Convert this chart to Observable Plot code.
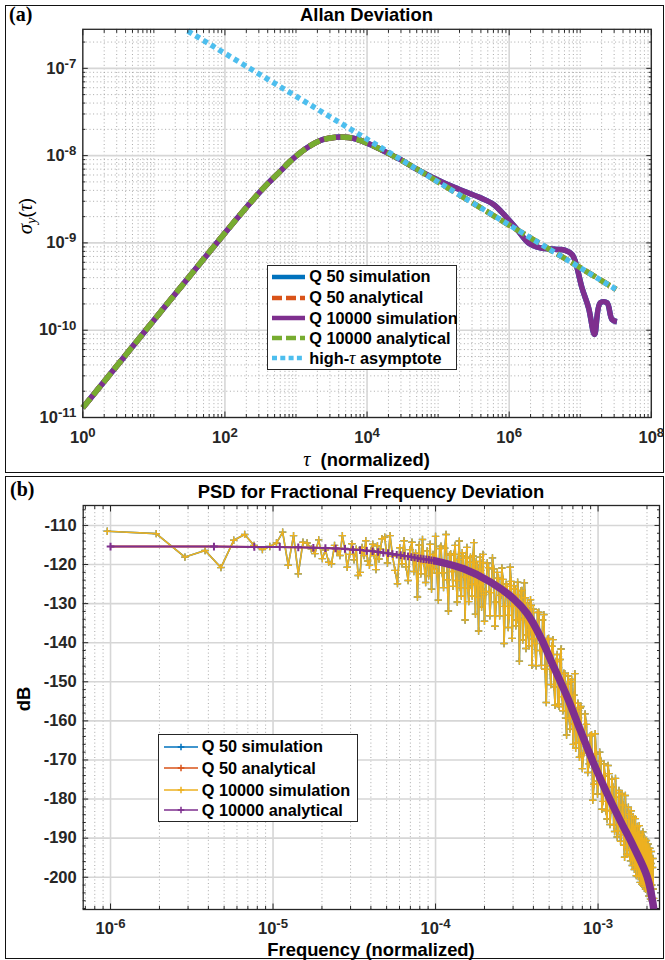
<!DOCTYPE html>
<html><head><meta charset="utf-8">
<script src="https://cdn.jsdelivr.net/npm/d3@7"></script>
<script src="https://cdn.jsdelivr.net/npm/@observablehq/plot@0.6"></script>
<style>
html,body{margin:0;padding:0;background:#fff;}
#page{position:relative;width:665px;height:960px;overflow:hidden;font-family:"Liberation Sans",Arial,Helvetica,sans-serif;color:#262626;}
.box{position:absolute;border:1.5px solid #111;box-sizing:border-box;}
.abs{position:absolute;white-space:nowrap;line-height:1;}
.title{font-weight:bold;font-size:18.4px;color:#000;transform:translate(-50%,-50%);}
.tag{font-family:"Liberation Serif","Times New Roman",serif;font-weight:bold;font-size:20px;color:#000;}
.greek{font-family:"Liberation Serif","DejaVu Serif",serif;font-style:italic;font-weight:normal;}
.legend{position:absolute;background:#fff;border:1px solid #262626;box-sizing:border-box;}
.row{position:absolute;left:0;height:20px;display:flex;align-items:center;font-weight:bold;font-size:16.3px;color:#000;white-space:nowrap;}
</style></head><body>
<div id="page">
  <div class="box" style="left:5px;top:5px;width:659px;height:468px"></div>
  <div class="box" style="left:5px;top:475.5px;width:659px;height:483px"></div>
  <div class="abs tag" style="left:9px;top:4px">(a)</div>
  <div class="abs tag" style="left:10px;top:479px">(b)</div>
  <div class="abs title" style="left:366.5px;top:15px">Allan Deviation</div>
  <div class="abs title" style="left:371px;top:492px">PSD for Fractional Frequency Deviation</div>
  <div class="abs title" style="left:366.5px;top:459px"><span class="greek" style="font-size:20px">τ</span>&nbsp; (normalized)</div>
  <div class="abs title" style="left:371px;top:950px">Frequency (normalized)</div>
  <div class="abs" style="left:27px;top:216px;transform:translate(-50%,-50%) rotate(-90deg);font-size:19px;color:#000"><span class="greek" style="font-size:21px">σ</span><sub class="greek" style="font-size:14px">y</sub><span>(</span><span class="greek" style="font-size:20px">τ</span><span>)</span></div>
  <div class="abs title" style="left:24px;top:699px;transform:translate(-50%,-50%) rotate(-90deg)">dB</div>
</div>
<script>
// ---------------- Panel (a): Allan deviation ----------------
const simTau = [1, 10, 100, 200, 351, 604, 834, 1432, 2203, 3200, 4209, 5500, 7228, 12380, 23660, 29380, 50470, 119400, 200000, 392600, 603900, 931000, 1288000, 1875000, 2737000, 4700000, 6150000, 7640000, 8500000, 10570000, 13090000, 15890000, 19110000, 23750000, 27930000, 32800000];
const simSigma = [1.29e-11, 1.3e-10, 1.3e-9, 2.55e-9, 4.28e-9, 6.64e-9, 8.65e-9, 1.23e-8, 1.49e-8, 1.60e-8, 1.63e-8, 1.61e-8, 1.54e-8, 1.29e-8, 9.87e-9, 9.04e-9, 6.95e-9, 4.88e-9, 4.1e-9, 3.29e-9, 2.76e-9, 1.94e-9, 1.43e-9, 1.0e-9, 8.79e-10, 8.43e-10, 8.21e-10, 7.38e-10, 6.19e-10, 3.06e-10, 1.81e-10, 8.95e-11, 2.06e-10, 2.06e-10, 1.33e-10, 1.25e-10];
const anaTau = [1, 10, 100, 200, 351, 604, 834, 1432, 2203, 3200, 4209, 5500, 7228, 12380, 23660, 50470, 100000, 1000000, 10000000, 32000000];
const anaSigma = [1.29e-11, 1.3e-10, 1.3e-9, 2.55e-9, 4.28e-9, 6.64e-9, 8.65e-9, 1.23e-8, 1.49e-8, 1.60e-8, 1.63e-8, 1.61e-8, 1.54e-8, 1.29e-8, 9.87e-9, 6.99e-9, 5.0e-9, 1.6e-9, 5.2e-10, 2.93e-10];
const asymTau = [30, 32000000];
const asymSigma = [2.68e-7, 2.93e-10];
const xTicksA = [1, 1e2, 1e4, 1e6, 1e8];
const yTicksA = [1e-11, 1e-10, 1e-9, 1e-8, 1e-7];

// ---------------- Panel (b): PSD ----------------
// simulated spectrum: [frequency in units of 1e-6, dB]
const simLow = [
 [0.955,-111.5],[1.91,-112.1],[2.87,-118.1],[3.82,-116.4],[4.78,-120.8],[5.73,-113.8],[6.69,-112.3],[7.64,-115.1],[8.60,-116.2],[9.55,-115.4],
 [10.5,-114.5],[11.46,-111.7],[12.4,-120.2],[13.37,-112.6],[14.3,-122.4],[15.28,-114.3],[16.2,-114.5],[17.19,-116.0],[18.1,-117.2],[19.1,-113.7],
 [20.1,-118.5],[21.0,-116.3],[22.0,-119.4],[22.9,-119.8],[23.9,-115.1],[24.8,-116.6],[25.8,-117.7],[26.7,-112.6],[27.7,-115.9],[28.6,-120.7],
 [29.6,-117.4],[30.6,-114.7],[31.5,-118.8],[32.5,-116.1],[33.4,-122.8],[34.4,-122.0],[35.3,-115.6],[36.3,-117.7],[37.2,-113.9],[38.2,-119.1],
 [39.2,-120.2],[40.1,-116.4],[41.1,-114.8],[42.0,-117.7],[43.0,-121.3],[43.9,-115.2],[44.9,-118.6],[45.8,-116.0],
 [46.8,-113.4],[48.7,-113.0],[50.6,-119.6],[52.5,-112.6],[54.4,-117.9],[56.3,-121.5],[58.3,-124.9],[60.2,-115.7],[62.1,-119.8],[64.0,-113.9],
 [65.9,-120.6],[67.8,-124.1],[69.7,-116.2],[71.6,-114.3],[73.5,-121.8],[75.4,-117.1],[77.4,-128.3],[79.3,-115.0],[81.2,-122.4],[83.1,-113.6],
 [85.0,-119.7],[86.9,-124.6],[88.8,-116.5],[90.7,-122.9],[92.6,-114.8],[94.5,-126.3],[96.5,-117.4],[98.4,-121.2]];
const simMid = [
 [100,-112.8],[102,-122.2],[104,-129.1],[106,-115.9],[108,-115.3],[110,-122.1],[112,-125.9],[114,-115.8],[116,-112.3],[118,-123.9],
 [120,-131.9],[122,-117.6],[124,-117.3],[126,-121.8],[128,-125.6],[130,-117.4],[132,-115.1],[134,-124.1],[136,-129.6],[138,-118.7],
 [140,-114.0],[142,-125.9],[144,-128.1],[146,-117.0],[148,-117.8],[150,-123.2],[152,-134.2],[154,-118.4],[156,-115.6],[158,-126.1],
 [160,-129.5],[162,-119.4],[164,-118.1],[166,-125.1],[168,-128.1],[170,-117.8],[172,-114.4],[174,-125.0],[176,-132.7],[178,-119.2],
 [180,-120.1],[182,-128.4],[184,-137.0],[186,-121.1],[188,-118.1],[190,-126.3],[192,-130.9],[194,-119.5],[196,-117.4],[198,-127.7],[200,-134.5],
 [204,-126.9],[208,-119.6],[212,-120.8],[216,-133.1],[220,-127.2],[224,-118.3],[228,-121.1],[232,-135.8],[236,-129.6],[240,-122.0],
 [244,-123.5],[248,-133.1],[252,-127.9],[256,-120.9],[260,-123.8],[264,-140.2],[268,-130.7],[272,-125.0],[276,-125.6],[280,-136.1],
 [284,-133.0],[288,-120.7],[292,-124.3],[296,-138.9],[300,-130.7],[304,-125.4],[308,-126.2],[312,-135.7],[316,-134.2],[320,-124.5],
 [324,-127.7],[328,-144.7],[332,-133.7],[336,-126.7],[340,-126.6],[344,-139.3],[348,-134.1],[352,-124.7],[356,-128.5],[360,-141.5],
 [364,-138.0],[368,-129.8],[372,-131.1],[376,-140.8],[380,-136.7],[384,-129.0],[388,-130.4],[392,-145.8],[396,-139.0],[400,-131.4]];
const simHigh = [
 [408,-140.2],[416,-145.9],[424,-132.3],[432,-132.2],[440,-142.0],[448,-145.8],[456,-134.2],[464,-132.8],[472,-146.8],[480,-155.3],
 [488,-139.1],[496,-138.9],[504,-145.9],[512,-150.7],[520,-140.9],[528,-139.2],[536,-151.3],[544,-156.0],[552,-144.8],[560,-143.0],
 [568,-155.7],[576,-156.3],[584,-144.3],[592,-141.6],[600,-153.8],[608,-157.4],[616,-147.8],[624,-147.9],[632,-159.3],[640,-163.6],
 [648,-150.6],[656,-148.5],[664,-159.4],[672,-162.1],[680,-150.0],[688,-149.4],[696,-160.8],[704,-166.0],[712,-153.4],[720,-147.9],
 [728,-167.0],[736,-165.6],[744,-157.5],[752,-155.5],[760,-165.5],[768,-169.3],[776,-156.7],[784,-156.3],[792,-168.8],[800,-172.2],
 [816,-168.2],[832,-158.2],[848,-160.9],[864,-173.2],[880,-171.0],[896,-163.8],[912,-163.5],[928,-180.3],[944,-176.2],[960,-163.3],
 [976,-168.5],[992,-178.7],[1008,-175.4],[1024,-168.0],[1040,-170.3],[1056,-182.6],[1072,-180.6],[1088,-171.0],[1104,-174.1],[1120,-183.0],
 [1136,-185.1],[1152,-171.4],[1168,-173.5],[1184,-186.5],[1200,-182.9],[1216,-174.9],[1232,-176.9],[1248,-186.6],[1264,-188.3],[1280,-174.7],
 [1296,-179.5],[1312,-189.7],[1328,-188.1],[1344,-177.8],[1360,-178.5],[1376,-190.8],[1392,-189.1],[1408,-178.7],[1424,-181.5],[1440,-191.8],
 [1456,-194.9],[1472,-179.1],[1488,-185.2],[1504,-194.1],[1520,-192.9],[1536,-182.1],[1552,-183.9],[1568,-194.5],[1584,-195.8],[1600,-183.0],
 [1612,-193.0],[1624,-197.0],[1636,-188.0],[1648,-184.6],[1660,-194.5],[1672,-198.0],[1684,-188.6],[1696,-185.0],[1708,-196.8],[1720,-199.6],
 [1732,-190.5],[1744,-187.0],[1756,-194.9],[1768,-199.8],[1780,-190.0],[1792,-186.8],[1804,-197.6],[1816,-201.3],[1828,-192.3],[1840,-189.0],
 [1852,-199.4],[1864,-201.8],[1876,-191.0],[1888,-188.4],[1900,-197.0],[1912,-202.3],[1924,-193.0],[1936,-190.2],[1948,-200.5],[1960,-203.0],
 [1972,-194.0],[1984,-190.6],[1996,-199.6],[2008,-203.5],[2020,-193.6],[2032,-191.5],[2044,-201.5],[2056,-204.8],[2068,-195.0],[2080,-192.6],
 [2092,-203.2],[2104,-205.6],[2116,-196.5],[2128,-193.4],[2140,-202.0],[2152,-206.0],[2164,-197.5],[2176,-195.2],[2188,-203.0],[2200,-205.4]];
// analytical spectrum: marker bins (×1e-6) and smooth continuation
const anaMarkFreq = [1.0,4.33,7.67,11.0,14.3,17.7,21.0,24.3,27.7,31.0,34.3,37.7,41.0,44.3,47.7,51.0,54.3,57.7,61.0,64.3,67.7,71.0,74.3,77.7,81.0,84.3,87.7,91.0,94.3,97.7];
const anaMarkDb = [-115.4,-115.4,-115.5,-115.5,-115.6,-115.7,-115.8,-115.9,-116.0,-116.2,-116.3,-116.5,-116.6,-116.8,-117.0,-117.1,-117.3,-117.5,-117.6,-117.8,-117.9,-118.1,-118.2,-118.4,-118.5,-118.6,-118.7,-118.8,-118.9,-119.0];
const anaCurveFreq = [97.7,149,218,303,367,443,535,646,780,942,1140,1370,1660,2010,2210];
const anaCurveDb = [-119.0,-121.1,-124.5,-128.8,-132.6,-138.6,-146.3,-153.9,-162.5,-171.0,-178.7,-185.5,-192.3,-200.0,-208.5];
const xTicksB = [1e-6, 1e-5, 1e-4, 1e-3];
const yTicksB = [-200, -190, -180, -170, -160, -150, -140, -130, -120, -110];

// ---------------- helpers ----------------
const C = {blue:"#0072BD", orange:"#D95319", yellow:"#EDB120", purple:"#7E2F8E", green:"#77AC30", cyan:"#4DBEEE"};
function logMinor(e0, e1, lo, hi, majors) {
  const out = [];
  for (let e = e0; e <= e1; e++) for (let m = 1; m <= 9; m++) {
    const v = +(m + "e" + e);
    if (v < lo * 0.999999 || v > hi * 1.000001) continue;
    if (majors.some(t => Math.abs(t - v) / v < 1e-9)) continue;
    out.push(v);
  }
  return out;
}
const xMinorA = logMinor(0, 7, 1, 1e8, xTicksA);
const yMinorA = logMinor(-11, -7, 1e-11, 2.8e-7, yTicksA);
const xMinorB = logMinor(-7, -3, 6.79e-7, 2.388e-3, xTicksB);
const yMinorB = [];
for (let v = -208; v <= -106; v += 2) if (v % 10 !== 0) yMinorB.push(v);

const zip = (xs, ys) => xs.map((x, i) => ({x, y: ys[i]}));
const zipMicro = (xs, ys) => xs.map((x, i) => ({x: x * 1e-6, y: ys[i]}));
const pairsMicro = ps => ps.map(([f, db]) => ({x: f * 1e-6, y: db}));

const font = {fontFamily: '"Liberation Sans", Arial, sans-serif', fontSize: "16.5px", fontWeight: "bold", color: "#262626", background: "none", overflow: "visible"};
const gridMajor = {stroke: "#d6d6d6", strokeOpacity: 1, strokeWidth: 1.6};
const gridMinor = {stroke: "#a0a0a0", strokeOpacity: 1, strokeWidth: 0.9, strokeDasharray: "1,2.6"};
const expFmt = d => "10^" + Math.round(Math.log10(d));
const blank = () => "";

function boxAxes(xMaj, xMin, yMaj, yMin, xFmt, yFmt, xPad) {
  return [
    Plot.axisX({ticks: xMaj, anchor: "bottom", tickSize: -5.5, tickPadding: xPad, tickFormat: xFmt, label: null}),
    Plot.axisX({ticks: xMin, anchor: "bottom", tickSize: -3, tickFormat: blank, label: null}),
    Plot.axisX({ticks: xMaj, anchor: "top", tickSize: -5.5, tickFormat: blank, label: null}),
    Plot.axisX({ticks: xMin, anchor: "top", tickSize: -3, tickFormat: blank, label: null}),
    Plot.axisY({ticks: yMaj, anchor: "left", tickSize: -5.5, tickPadding: 12, tickFormat: yFmt, label: null}),
    Plot.axisY({ticks: yMin, anchor: "left", tickSize: -3, tickFormat: blank, label: null}),
    Plot.axisY({ticks: yMaj, anchor: "right", tickSize: -5.5, tickFormat: blank, label: null}),
    Plot.axisY({ticks: yMin, anchor: "right", tickSize: -3, tickFormat: blank, label: null}),
    Plot.frame({stroke: "#262626", strokeWidth: 1.3})
  ];
}
function superscripts(svg) {
  d3.select(svg).selectAll("text").each(function () {
    const m = /^10\^(.+)$/.exec(this.textContent);
    if (!m) return;
    const s = d3.select(this);
    s.text(null);
    s.append("tspan").text("10");
    s.append("tspan").attr("dy", "-0.45em").attr("font-size", "0.8em").text(m[1]);
  });
}

// ---------------- Plot (a) ----------------
const simA = zip(simTau, simSigma);
const anaA = zip(anaTau, anaSigma);
const q50SimA = zip(simTau, simSigma);
const q50AnaA = zip(anaTau, anaSigma);
const asymA = zip(asymTau, asymSigma);
const lineOpt = {x: "x", y: "y", strokeWidth: 5.5, strokeLinejoin: "round", strokeLinecap: "butt", curve: "catmull-rom"};

const plotA = Plot.plot({
  width: 665, height: 470,
  marginLeft: 82.3, marginRight: 14.2, marginTop: 28.8, marginBottom: 53,
  style: font,
  x: {type: "log", domain: [1, 1e8]},
  y: {type: "log", domain: [1e-11, 2.8e-7]},
  marks: [
    Plot.gridX({ticks: xMinorA, ...gridMinor}),
    Plot.gridY({ticks: yMinorA, ...gridMinor}),
    Plot.gridX({ticks: xTicksA, ...gridMajor}),
    Plot.gridY({ticks: yTicksA, ...gridMajor}),
    Plot.line(q50SimA, {...lineOpt, stroke: C.blue}),
    Plot.line(q50AnaA, {...lineOpt, stroke: C.orange, strokeDasharray: "12,4.5"}),
    Plot.line(simA, {...lineOpt, stroke: C.purple}),
    Plot.line(anaA, {...lineOpt, stroke: C.green, strokeDasharray: "12,4.5"}),
    Plot.line(asymA, {x: "x", y: "y", strokeWidth: 5.5, strokeLinecap: "butt", stroke: C.cyan, strokeDasharray: "5,4"}),
    ...boxAxes(xTicksA, xMinorA, yTicksA, yMinorA, expFmt, expFmt, 19.5)
  ]
});
superscripts(plotA);
plotA.style.position = "absolute"; plotA.style.left = "0px"; plotA.style.top = "0px";

// ---------------- Plot (b) ----------------
const simB = pairsMicro(simLow.concat(simMid, simHigh));
const q50SimB = pairsMicro(simLow.concat(simMid, simHigh));
const anaAllB = zipMicro(anaMarkFreq.concat(anaCurveFreq.slice(1)), anaMarkDb.concat(anaCurveDb.slice(1)));
const anaMarksB = zipMicro(anaMarkFreq, anaMarkDb);
const anaCurveB = zipMicro(anaCurveFreq, anaCurveDb);

const plotB = Plot.plot({
  width: 665, height: 484,
  marginLeft: 82.7, marginRight: 6, marginTop: 29, marginBottom: 51,
  style: font,
  x: {type: "log", domain: [6.79e-7, 2.388e-3]},
  y: {domain: [-208.25, -104.9]},
  marks: [
    Plot.gridX({ticks: xMinorB, ...gridMinor}),
    Plot.gridX({ticks: xTicksB, ...gridMajor}),
    Plot.gridY({ticks: yTicksB, ...gridMajor}),
    Plot.line(q50SimB, {x: "x", y: "y", stroke: C.blue, strokeWidth: 1.6, clip: true}),
    Plot.dot(q50SimB, {x: "x", y: "y", symbol: "plus", r: 2.5, fill: "none", stroke: C.blue, strokeWidth: 1.4}),
    Plot.line(anaAllB, {x: "x", y: "y", stroke: C.orange, strokeWidth: 2, curve: "catmull-rom", clip: true}),
    Plot.line(simB, {x: "x", y: "y", stroke: C.yellow, strokeWidth: 1.6, clip: true}),
    Plot.dot(simB, {x: "x", y: "y", symbol: "plus", r: 2.5, fill: "none", stroke: C.yellow, strokeWidth: 1.4}),
    Plot.line(anaAllB, {x: "x", y: "y", stroke: C.purple, strokeWidth: 2, curve: "catmull-rom", clip: true}),
    Plot.dot(anaMarksB, {x: "x", y: "y", symbol: "plus", r: 2.6, fill: "none", stroke: C.purple, strokeWidth: 2}),
    Plot.line(anaCurveB, {x: "x", y: "y", stroke: C.purple, strokeWidth: 7.5, curve: "catmull-rom", strokeLinecap: "butt", clip: true}),
    ...boxAxes(xTicksB, xMinorB, yTicksB, yMinorB, expFmt, d => String(d), 18)
  ]
});
superscripts(plotB);
plotB.style.position = "absolute"; plotB.style.left = "0px"; plotB.style.top = "476px";

const page = document.getElementById("page");
page.appendChild(plotA);
page.appendChild(plotB);

// ---------------- Legends ----------------
const legendA = [
  {label: "Q 50 simulation", color: C.blue, dash: null},
  {label: "Q 50 analytical", color: C.orange, dash: "10,4"},
  {label: "Q 10000 simulation", color: C.purple, dash: null},
  {label: "Q 10000 analytical", color: C.green, dash: "10,4"},
  {label: "high-τ asymptote", color: C.cyan, dash: "5,3.3"}
];
const legendB = [
  {label: "Q 50 simulation", color: C.blue},
  {label: "Q 50 analytical", color: C.orange},
  {label: "Q 10000 simulation", color: C.yellow},
  {label: "Q 10000 analytical", color: C.purple}
];
function makeLegend(items, box, rowTops, sample) {
  const div = document.createElement("div");
  div.className = "legend";
  Object.assign(div.style, {left: box[0] + "px", top: box[1] + "px", width: box[2] + "px", height: box[3] + "px"});
  items.forEach((it, i) => {
    const row = document.createElement("div");
    row.className = "row";
    row.style.top = rowTops[i] + "px";
    row.innerHTML = sample(it) + `<span>${it.label.replace("τ", '<span class="greek" style="font-size:18px">τ</span>')}</span>`;
    div.appendChild(row);
  });
  page.appendChild(div);
}
makeLegend(legendA, [267, 265, 190, 105], [0.7, 21.7, 42.3, 62.3, 82.3], it =>
  `<svg width="33" height="10" style="margin-left:3.7px;margin-right:4.6px"><line x1="0" y1="5" x2="33" y2="5" stroke="${it.color}" stroke-width="4.5" ${it.dash ? `stroke-dasharray="${it.dash}"` : ""}/></svg>`);
makeLegend(legendB, [158, 734, 200, 88], [1.7, 23.3, 45, 65], it =>
  `<svg width="34" height="10" style="margin-left:5px;margin-right:3.7px"><line x1="0" y1="5" x2="34" y2="5" stroke="${it.color}" stroke-width="1.6"/><path d="M13.7,5h6.6M17,1.7v6.6" stroke="${it.color}" stroke-width="1.5" fill="none"/></svg>`);
</script>
</body></html>
